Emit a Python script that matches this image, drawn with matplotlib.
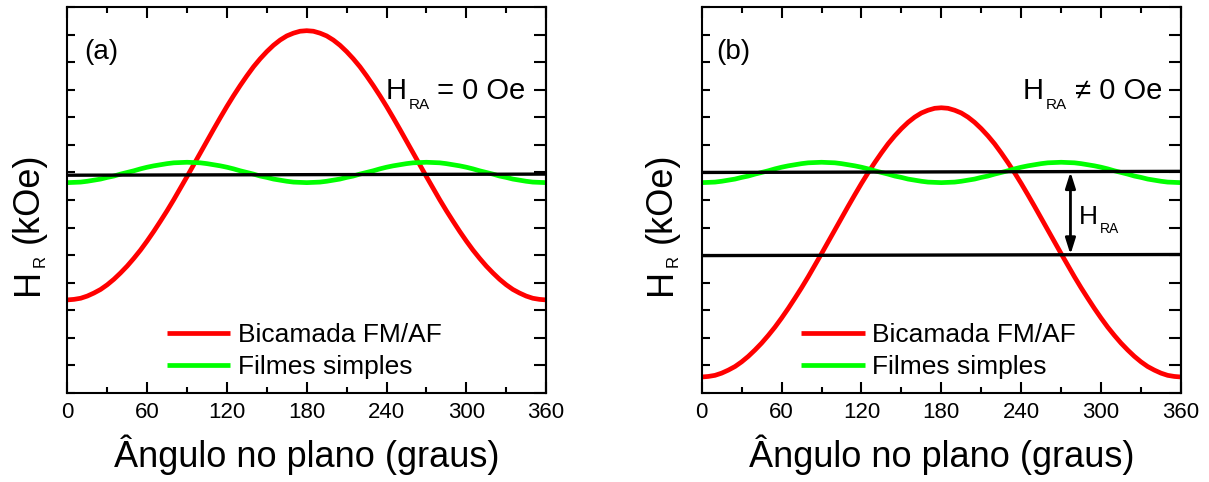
import matplotlib
matplotlib.use('Agg')
import matplotlib.pyplot as plt
from matplotlib.ticker import MultipleLocator

plt.rcParams['font.family'] = ['Liberation Sans', 'DejaVu Sans']

# angle in the plane (degrees)
angles = list(range(0, 361, 5))

# bilayer FM/AF, panel (a) and (b)
red_a = [3.37, 3.39, 3.43, 3.51, 3.62, 3.75, 3.92, 4.12, 4.35, 4.60, 4.88, 5.18,
         5.51, 5.86, 6.23, 6.61, 7.01, 7.43, 7.85, 8.28, 8.71, 9.14, 9.57, 9.99,
         10.40, 10.79, 11.16, 11.51, 11.84, 12.13, 12.39, 12.62, 12.81, 12.96,
         13.06, 13.13, 13.15,
         13.13, 13.06, 12.96, 12.81, 12.62, 12.39, 12.13, 11.84, 11.51, 11.16,
         10.79, 10.40, 9.99, 9.57, 9.14, 8.71, 8.28, 7.85, 7.43, 7.01, 6.61, 6.23,
         5.86, 5.51, 5.18, 4.88, 4.60, 4.35, 4.12, 3.92, 3.75, 3.62, 3.51, 3.43,
         3.39, 3.37]
red_b = [0.57, 0.59, 0.63, 0.71, 0.82, 0.95, 1.12, 1.32, 1.55, 1.80, 2.08, 2.38,
         2.71, 3.06, 3.43, 3.81, 4.21, 4.63, 5.05, 5.48, 5.91, 6.34, 6.77, 7.19,
         7.60, 7.99, 8.36, 8.71, 9.04, 9.33, 9.59, 9.82, 10.01, 10.16, 10.26,
         10.33, 10.35,
         10.33, 10.26, 10.16, 10.01, 9.82, 9.59, 9.33, 9.04, 8.71, 8.36, 7.99,
         7.60, 7.19, 6.77, 6.34, 5.91, 5.48, 5.05, 4.63, 4.21, 3.81, 3.43, 3.06,
         2.71, 2.38, 2.08, 1.80, 1.55, 1.32, 1.12, 0.95, 0.82, 0.71, 0.63, 0.59,
         0.57]
# single films (same in both panels)
green = [7.63, 7.64, 7.65, 7.68, 7.72, 7.76, 7.82, 7.87, 7.94, 8.00, 8.06, 8.13,
         8.19, 8.24, 8.28, 8.32, 8.35, 8.36, 8.37,
         8.36, 8.35, 8.32, 8.28, 8.24, 8.19, 8.13, 8.06, 8.00, 7.94, 7.87, 7.82,
         7.76, 7.72, 7.68, 7.65, 7.64, 7.63,
         7.64, 7.65, 7.68, 7.72, 7.76, 7.82, 7.87, 7.94, 8.00, 8.06, 8.13, 8.19,
         8.24, 8.28, 8.32, 8.35, 8.36, 8.37,
         8.36, 8.35, 8.32, 8.28, 8.24, 8.19, 8.13, 8.06, 8.00, 7.94, 7.87, 7.82,
         7.76, 7.72, 7.68, 7.65, 7.64, 7.63]

# horizontal reference lines (value at 0 and 360 deg)
line_ends = [0, 360]
line_a = [7.90, 7.94]
line_b_top = [8.00, 8.04]
line_b_low = [4.98, 5.02]
arrow_angle = 277

labels = ['Bicamada FM/AF', 'Filmes simples']
panel_tags = ['(a)', '(b)']

fig = plt.figure(figsize=(12.09, 4.82), dpi=100)
ax_a = fig.add_axes([0.0557, 0.1853, 0.3960, 0.7996])
ax_b = fig.add_axes([0.5804, 0.1853, 0.3964, 0.7996])


def style(ax):
    ax.set_xlim(0, 360)
    ax.set_ylim(0, 14)
    ax.xaxis.set_major_locator(MultipleLocator(60))
    ax.xaxis.set_minor_locator(MultipleLocator(30))
    ax.yaxis.set_major_locator(MultipleLocator(1))
    ax.tick_params(axis='x', which='major', direction='in', length=8, width=1.5,
                   top=True, labelsize=16, pad=7)
    ax.tick_params(axis='x', which='minor', direction='in', length=4.5, width=1.5, top=True)
    ax.tick_params(axis='y', direction='in', length=5.5, width=1.5, labelleft=False)
    for s in ax.spines.values():
        s.set_linewidth(1.5)
    sec = ax.secondary_yaxis('right')
    sec.yaxis.set_major_locator(MultipleLocator(1))
    sec.tick_params(direction='in', length=8.5, width=1.5, labelright=False)
    sec.spines['right'].set_linewidth(1.5)
    ax.set_xlabel('Ângulo no plano (graus)', fontsize=26, labelpad=8)


def sub_text(ax, x, y, base, sub, rest, size, sub_size, drop):
    t1 = ax.text(x, y, base, fontsize=size, ha='left', va='baseline')
    t2 = ax.annotate(sub, xy=(1, 0), xycoords=t1, xytext=(1.5, -drop),
                     textcoords='offset points', fontsize=sub_size,
                     ha='left', va='baseline')
    if rest:
        ax.annotate(rest, xy=(1, 0), xycoords=(t2, t1), fontsize=size,
                    ha='left', va='bottom')


def y_label(ax, x, y):
    t1 = fig.text(x, y, 'H', fontsize=26, rotation=90, ha='left', va='bottom')
    t2 = ax.annotate('R', xy=(1, 1), xycoords=t1, xytext=(1, 1),
                     textcoords='offset points', fontsize=12, rotation=90,
                     ha='right', va='bottom', annotation_clip=False)
    ax.annotate('(kOe)', xy=(1, 1), xycoords=(t1, t2), xytext=(0, 9),
                textcoords='offset points', fontsize=26, rotation=90,
                ha='right', va='bottom', annotation_clip=False)


for ax, red, tag, tag_x in [(ax_a, red_a, panel_tags[0], 13), (ax_b, red_b, panel_tags[1], 11)]:
    style(ax)
    h_red, = ax.plot(angles, red, color='#ff0000', lw=3.4, solid_capstyle='butt')
    h_green, = ax.plot(angles, green, color='#00ff00', lw=3.4, solid_capstyle='butt')
    ax.text(tag_x, 12.38, tag, fontsize=20, ha='left', va='center')
    ax.legend([h_red, h_green], labels, loc='lower left', bbox_to_anchor=(0.2077, 0.035),
              frameon=False, fontsize=19, handlelength=2.4, handletextpad=0.3,
              labelspacing=0.3, borderpad=0, borderaxespad=0)

ax_a.plot(line_ends, line_a, color='black', lw=2.4, zorder=3)
ax_b.plot(line_ends, line_b_top, color='black', lw=2.4, zorder=3)
ax_b.plot(line_ends, line_b_low, color='black', lw=2.4, zorder=3)

ax_b.annotate('', xy=(arrow_angle, 8.02), xytext=(arrow_angle, 5.02),
              arrowprops=dict(arrowstyle='<|-|>,head_length=0.95,head_width=0.3',
                              mutation_scale=10, color='black', lw=2,
                              shrinkA=0, shrinkB=0))

sub_text(ax_a, 239, 10.67, 'H', 'RA', ' = 0 Oe', 21, 11, 3)
sub_text(ax_b, 241, 10.67, 'H', 'RA', ' \u2260 0 Oe', 21, 11, 3)
sub_text(ax_b, 283, 6.13, 'H', 'RA', '', 19, 10, 3.2)

y_label(ax_a, 0.0091, 0.388)
y_label(ax_b, 0.5327, 0.388)

fig.savefig('out.png', dpi=100)
